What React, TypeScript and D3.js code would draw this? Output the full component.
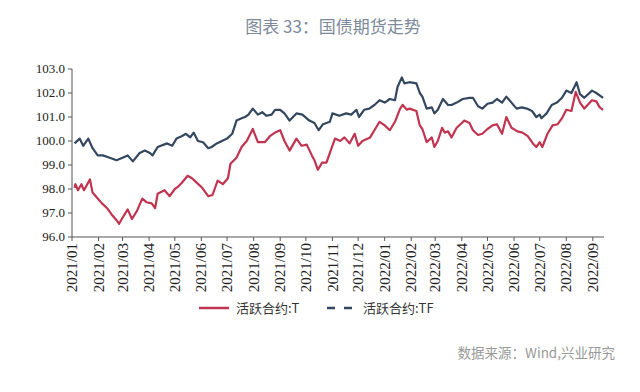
import React from 'react'
import * as d3 from 'd3'

type Pt = [string, number]

// 活跃合约:T
const seriesT: Pt[] = [
    ['2021-01-04', 98.05], ['2021-01-05', 98.2], ['2021-01-08', 97.95], ['2021-01-12', 98.2],
    ['2021-01-15', 97.95], ['2021-01-22', 98.4], ['2021-01-25', 97.85], ['2021-01-30', 97.65],
    ['2021-02-05', 97.4], ['2021-02-11', 97.2], ['2021-02-16', 96.95], ['2021-02-22', 96.7],
    ['2021-02-25', 96.55], ['2021-03-01', 96.8], ['2021-03-07', 97.15], ['2021-03-12', 96.75],
    ['2021-03-18', 97.1], ['2021-03-24', 97.6], ['2021-03-29', 97.45], ['2021-04-04', 97.4],
    ['2021-04-08', 97.2], ['2021-04-11', 97.8], ['2021-04-19', 97.95], ['2021-04-25', 97.7],
    ['2021-05-01', 98.0], ['2021-05-05', 98.1], ['2021-05-09', 98.25], ['2021-05-16', 98.55],
    ['2021-05-21', 98.45], ['2021-05-24', 98.35], ['2021-06-02', 98.05], ['2021-06-09', 97.7],
    ['2021-06-14', 97.75], ['2021-06-20', 98.35], ['2021-06-26', 98.2], ['2021-07-02', 98.45],
    ['2021-07-05', 99.05], ['2021-07-12', 99.3], ['2021-07-18', 99.75], ['2021-07-24', 100.0],
    ['2021-07-31', 100.5], ['2021-08-06', 99.95], ['2021-08-14', 99.95], ['2021-08-20', 100.2],
    ['2021-08-26', 100.35], ['2021-09-01', 100.45], ['2021-09-06', 100.0], ['2021-09-12', 99.6],
    ['2021-09-20', 100.1], ['2021-09-26', 99.8], ['2021-10-02', 99.85], ['2021-10-08', 99.4],
    ['2021-10-11', 99.2], ['2021-10-15', 98.8], ['2021-10-20', 99.1], ['2021-10-25', 99.1],
    ['2021-10-31', 99.7], ['2021-11-04', 100.1], ['2021-11-10', 100.0], ['2021-11-15', 100.15],
    ['2021-11-21', 99.9], ['2021-11-27', 100.3], ['2021-12-01', 99.8], ['2021-12-06', 100.0],
    ['2021-12-15', 100.15], ['2021-12-20', 100.45], ['2021-12-26', 100.8], ['2022-01-01', 100.65],
    ['2022-01-07', 100.45], ['2022-01-13', 100.8], ['2022-01-19', 101.35], ['2022-01-22', 101.5],
    ['2022-01-27', 101.3], ['2022-01-30', 101.35], ['2022-02-07', 101.25], ['2022-02-11', 100.65],
    ['2022-02-14', 100.5], ['2022-02-19', 99.95], ['2022-02-25', 100.15], ['2022-02-28', 99.75],
    ['2022-03-04', 100.0], ['2022-03-09', 100.55], ['2022-03-12', 100.35], ['2022-03-16', 100.4],
    ['2022-03-20', 100.15], ['2022-03-26', 100.55], ['2022-04-01', 100.75], ['2022-04-04', 100.85],
    ['2022-04-10', 100.75], ['2022-04-14', 100.45], ['2022-04-20', 100.25], ['2022-04-25', 100.3],
    ['2022-05-01', 100.5], ['2022-05-07', 100.65], ['2022-05-12', 100.7], ['2022-05-18', 100.3],
    ['2022-05-23', 101.0], ['2022-05-29', 100.55], ['2022-06-05', 100.4], ['2022-06-11', 100.35],
    ['2022-06-17', 100.2], ['2022-06-23', 99.9], ['2022-06-27', 99.75], ['2022-07-01', 99.95],
    ['2022-07-04', 99.75], ['2022-07-10', 100.3], ['2022-07-16', 100.65], ['2022-07-22', 100.7],
    ['2022-07-27', 100.95], ['2022-08-01', 101.3], ['2022-08-07', 101.25], ['2022-08-12', 102.05],
    ['2022-08-17', 101.6], ['2022-08-22', 101.35], ['2022-08-31', 101.7], ['2022-09-05', 101.65],
    ['2022-09-09', 101.4], ['2022-09-13', 101.3],
]

// 活跃合约:TF
const seriesTF: Pt[] = [
    ['2021-01-04', 99.9], ['2021-01-10', 100.1], ['2021-01-14', 99.8], ['2021-01-20', 100.1],
    ['2021-01-25', 99.7], ['2021-01-31', 99.4], ['2021-02-06', 99.4], ['2021-02-14', 99.3],
    ['2021-02-22', 99.2], ['2021-03-01', 99.3], ['2021-03-07', 99.4], ['2021-03-13', 99.15],
    ['2021-03-21', 99.5], ['2021-03-27', 99.6], ['2021-04-02', 99.5], ['2021-04-05', 99.4],
    ['2021-04-11', 99.75], ['2021-04-22', 99.9], ['2021-04-28', 99.8], ['2021-05-03', 100.1],
    ['2021-05-09', 100.2], ['2021-05-14', 100.3], ['2021-05-19', 100.15], ['2021-05-23', 100.35],
    ['2021-05-28', 100.0], ['2021-06-03', 99.95], ['2021-06-09', 99.7], ['2021-06-13', 99.75],
    ['2021-06-19', 99.9], ['2021-06-25', 100.0], ['2021-07-01', 100.1], ['2021-07-07', 100.3],
    ['2021-07-12', 100.85], ['2021-07-18', 100.95], ['2021-07-22', 101.0], ['2021-07-26', 101.1],
    ['2021-07-31', 101.35], ['2021-08-06', 101.1], ['2021-08-11', 101.2], ['2021-08-16', 101.05],
    ['2021-08-22', 101.1], ['2021-08-26', 101.3], ['2021-09-01', 101.3], ['2021-09-06', 101.15],
    ['2021-09-12', 100.85], ['2021-09-20', 101.15], ['2021-09-27', 101.1], ['2021-10-05', 100.85],
    ['2021-10-11', 100.75], ['2021-10-16', 100.45], ['2021-10-21', 100.7], ['2021-10-29', 100.8],
    ['2021-11-01', 101.15], ['2021-11-09', 101.05], ['2021-11-17', 101.15], ['2021-11-23', 101.1],
    ['2021-11-29', 101.3], ['2021-12-02', 101.0], ['2021-12-08', 101.3], ['2021-12-14', 101.35],
    ['2021-12-20', 101.5], ['2021-12-26', 101.7], ['2022-01-01', 101.6], ['2022-01-07', 101.75],
    ['2022-01-13', 101.7], ['2022-01-16', 102.25], ['2022-01-21', 102.65], ['2022-01-24', 102.4],
    ['2022-01-30', 102.45], ['2022-02-07', 102.4], ['2022-02-11', 102.0], ['2022-02-14', 101.85],
    ['2022-02-19', 101.35], ['2022-02-25', 101.4], ['2022-02-28', 101.15], ['2022-03-04', 101.3],
    ['2022-03-10', 101.75], ['2022-03-16', 101.5], ['2022-03-20', 101.5], ['2022-03-26', 101.6],
    ['2022-04-02', 101.75], ['2022-04-10', 101.8], ['2022-04-14', 101.8], ['2022-04-20', 101.45],
    ['2022-04-25', 101.35], ['2022-05-01', 101.55], ['2022-05-07', 101.6], ['2022-05-12', 101.75],
    ['2022-05-18', 101.6], ['2022-05-23', 101.85], ['2022-05-29', 101.6], ['2022-06-04', 101.35],
    ['2022-06-10', 101.4], ['2022-06-16', 101.35], ['2022-06-22', 101.25], ['2022-06-27', 101.0],
    ['2022-07-01', 101.1], ['2022-07-03', 100.95], ['2022-07-09', 101.15], ['2022-07-15', 101.5],
    ['2022-07-21', 101.6], ['2022-07-27', 101.8], ['2022-08-01', 102.1], ['2022-08-07', 102.0],
    ['2022-08-13', 102.45], ['2022-08-17', 101.95], ['2022-08-22', 101.8], ['2022-08-31', 102.1],
    ['2022-09-05', 102.0], ['2022-09-13', 101.8],
]

const yTicks = [96, 97, 98, 99, 100, 101, 102, 103]
const monthTicks = d3.timeMonths(new Date(2021, 0, 1), new Date(2022, 8, 2))

const parse = d3.timeParse('%Y-%m-%d')
const fmtMonth = d3.timeFormat('%Y/%m')

const W = 640
const H = 392
const serif = '"Liberation Serif", "DejaVu Serif", serif'
const cjk = '"Noto Sans CJK SC", "Noto Sans", sans-serif'

const App = () => {
    const x = d3.scaleTime()
        .domain([new Date(2021, 0, 1), new Date(2022, 8, 14)])
        .range([72, 604])
    const y = d3.scaleLinear().domain([96, 103]).range([237, 69])

    const line = d3.line<Pt>()
        .x(d => x(parse(d[0])!))
        .y(d => y(d[1]))

    const axisColor = '#555'

    return (
        <svg width={W} height={H} style={{ position: 'absolute', left: 0, top: 0, background: '#fff' }}>
            <text x={333} y={33} textAnchor="middle" fontFamily={cjk} fontSize={17} fill="#7d8a9a">
                图表 33：国债期货走势
            </text>

            {/* y axis */}
            <line x1={72} x2={72} y1={y(103)} y2={y(96)} stroke={axisColor} strokeWidth={1} />
            {yTicks.map(t => (
                <g key={t} transform={`translate(0, ${y(t)})`}>
                    <line x1={68} x2={72} stroke={axisColor} />
                    <text x={65} dy="0.34em" textAnchor="end" fontFamily={serif} fontSize={13} fill="#222">
                        {d3.format('.1f')(t)}
                    </text>
                </g>
            ))}

            {/* x axis */}
            <line x1={72} x2={604} y1={y(96)} y2={y(96)} stroke={axisColor} />
            {monthTicks.map(m => (
                <g key={m.getTime()} transform={`translate(${x(m)}, ${y(96)})`}>
                    <line y1={0} y2={4} stroke={axisColor} />
                    <text transform="translate(0, 6) rotate(-90)" dy="0.34em" textAnchor="end"
                        fontFamily={serif} fontSize={15} fill="#222">
                        {fmtMonth(m)}
                    </text>
                </g>
            ))}

            <path d={line(seriesTF)!} fill="none" stroke="#33475f" strokeWidth={2.2} strokeLinejoin="round" />
            <path d={line(seriesT)!} fill="none" stroke="#c1344f" strokeWidth={2.2} strokeLinejoin="round" />

            {/* legend */}
            <line x1={199} x2={229} y1={308} y2={308} stroke="#c1344f" strokeWidth={2.5} />
            <text x={236} y={308} dy="0.35em" fontFamily={cjk} fontSize={13} fill="#333">活跃合约:T</text>
            <line x1={327} x2={352} y1={308} y2={308} stroke="#33475f" strokeWidth={2.5} strokeDasharray="8,9" />
            <text x={363} y={308} dy="0.35em" fontFamily={cjk} fontSize={13} fill="#333">活跃合约:TF</text>

            <text x={615} y={358} textAnchor="end" fontFamily={cjk} fontSize={13.5} fill="#999">
                数据来源：Wind,兴业研究
            </text>
        </svg>
    )
}

export default App
